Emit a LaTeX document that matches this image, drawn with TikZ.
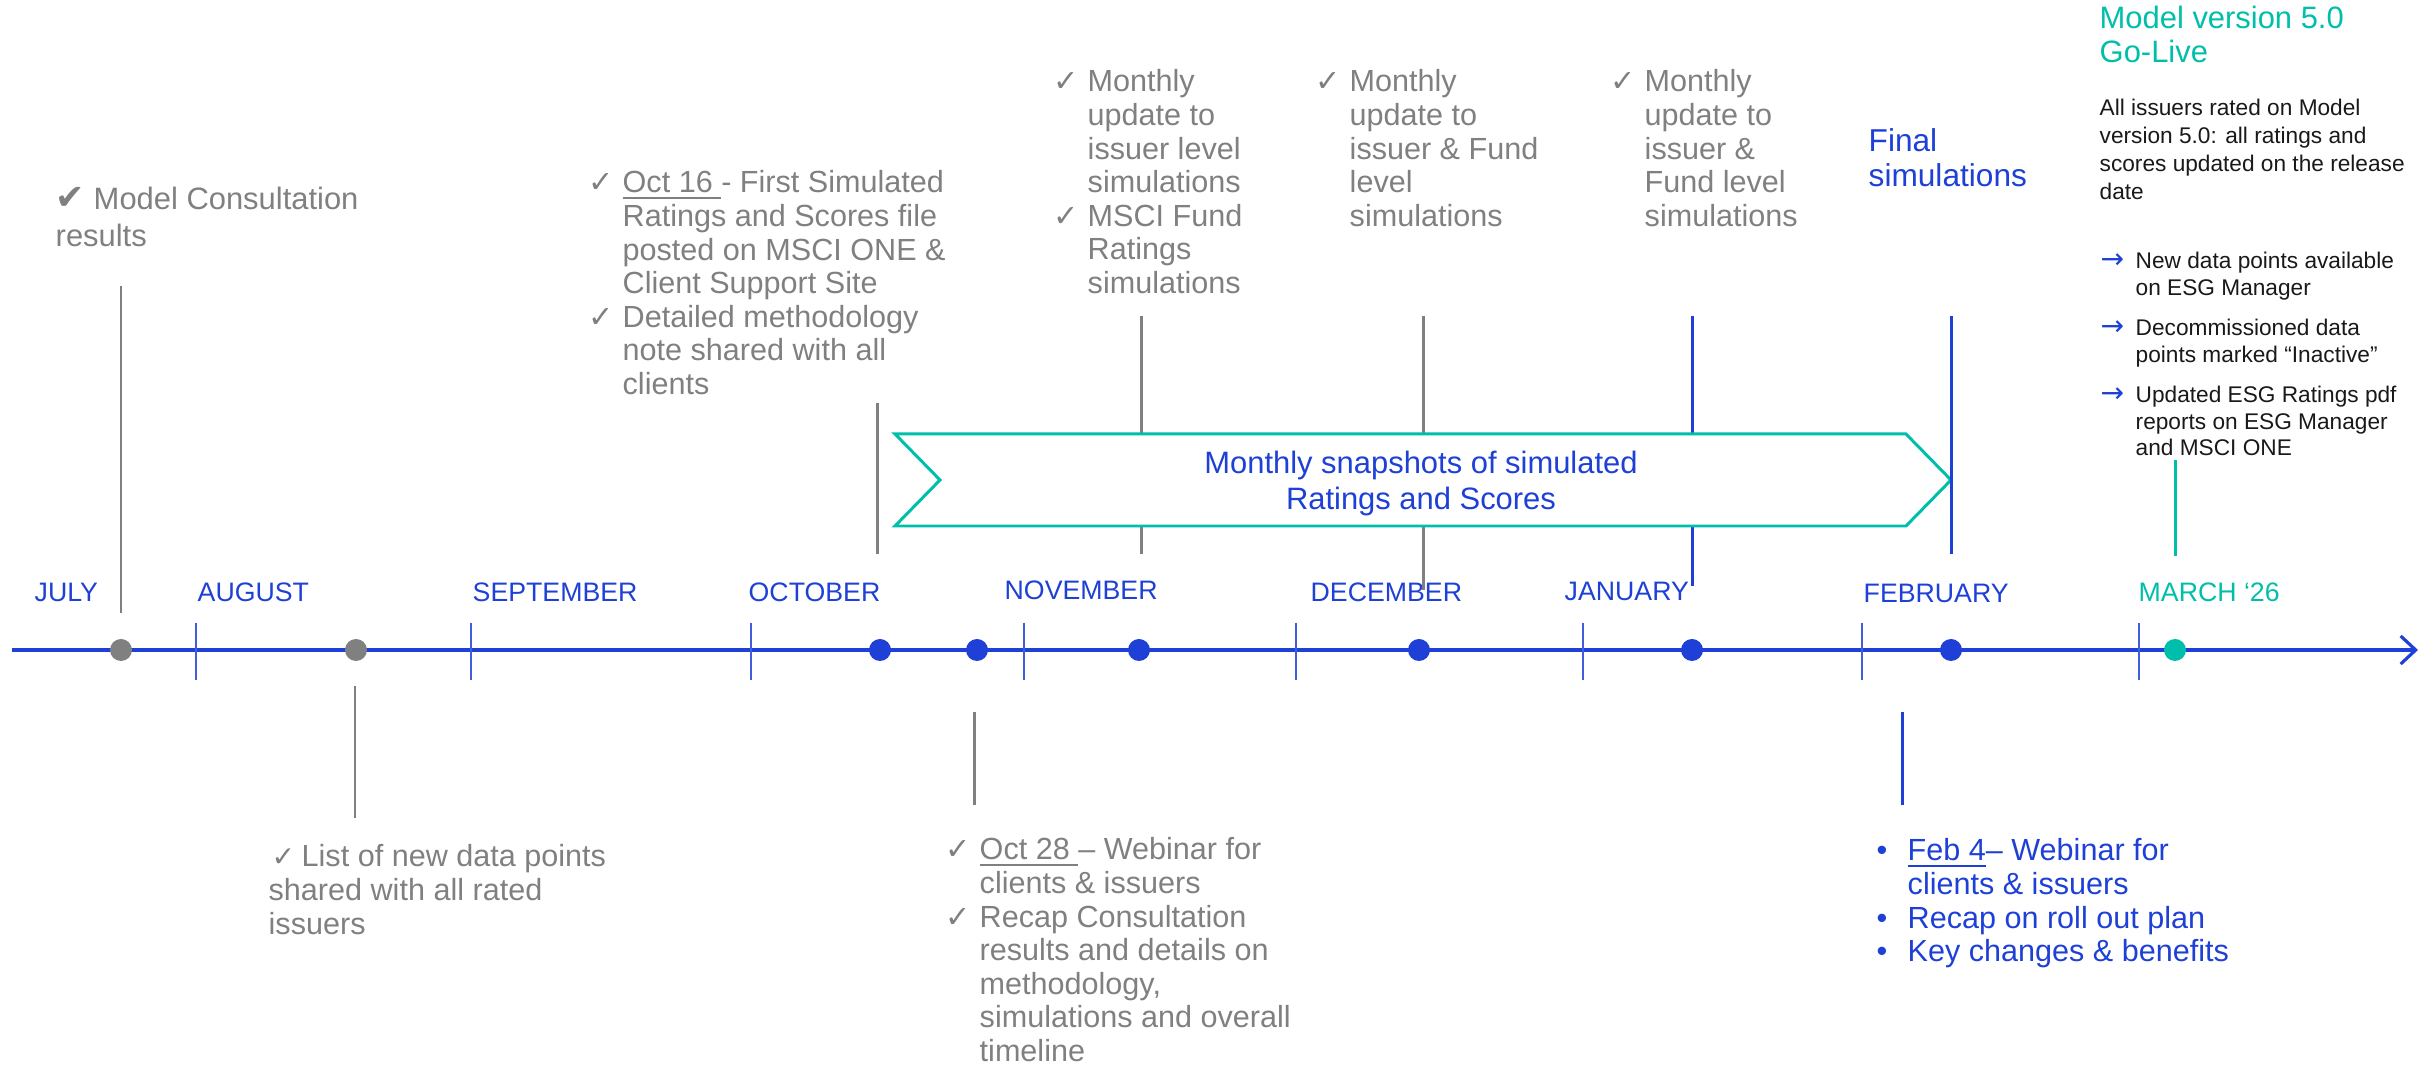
\documentclass[tikz,border=0pt]{standalone}
\usepackage{fontspec}
\setmainfont{Liberation Sans}
\newfontfamily\symfont{DejaVu Sans}
\usetikzlibrary{arrows.meta,positioning}

\definecolor{msciblue}{RGB}{30,64,214}
\definecolor{mscigrey}{RGB}{128,128,128}
\definecolor{msciteal}{RGB}{0,191,170}
\definecolor{mscink}{RGB}{25,25,25}

\newcommand{\dateul}[1]{\setbox0=\hbox{#1}\rlap{\rule[-1.8pt]{\wd0}{0.75pt}}\box0}
\newcommand{\chk}{\makebox[3.4mm][l]{\symfont\fontsize{8.6}{8.6}\selectfont ✓}}
\newcommand{\bigchk}{{\symfont\fontsize{10}{10}\selectfont ✔}}
\newcommand{\arr}{\makebox[3.5mm][l]{\color{msciblue}\symfont\fontsize{8}{8}\selectfont →}}
\newcommand{\bul}{\makebox[3.1mm][l]{•}}

\begin{document}
\begin{tikzpicture}[x=0.1mm,y=-0.1mm,
  txt/.style={inner sep=0pt, anchor=base west, font=\fontsize{8.7}{9.56}\selectfont},
  greytxt/.style={txt, text=mscigrey},
  bluetxt/.style={txt, text=msciblue},
  month/.style={inner sep=0pt, anchor=base west, text=msciblue, font=\fontsize{7.6}{8}\selectfont},
  dot/.style={circle, inner sep=0pt, minimum size=2.2mm},
  greyline/.style={draw=mscigrey, line width=0.85pt},
  blueline/.style={draw=msciblue, line width=0.85pt},
  tealline/.style={draw=msciteal, line width=0.85pt},
  axis/.style={draw=msciblue, line width=0.9pt, -{Straight Barb[length=1.5mm,width=2.8mm]}},
  tickmark/.style={draw=msciblue!85, line width=0.55pt},
  chevron/.style={draw=msciteal, line width=0.85pt, fill=white}]

  \useasboundingbox (0,0) rectangle (2433,1068);

  % Axis

  \coordinate (ax-start) at (12,650);
  \coordinate (ax-end)   at (2418,650);
  \draw[axis] (ax-start) -- (ax-end);

  \foreach \x in {196,471,751,1024,1296,1583,1862,2139}
    \draw[tickmark] (\x,623) -- (\x,680);

  % Months

  \node[month] (m-jul) at (34,602)   {JULY} ; %
  \node[month] (m-aug) at (197,602)  {AUGUST} ; %
  \node[month] (m-sep) at (472,602)  {SEPTEMBER} ; %
  \node[month] (m-oct) at (748,602)  {OCTOBER} ; %
  \node[month] (m-nov) at (1004,600) {NOVEMBER} ; %
  \node[month] (m-dec) at (1310,602) {DECEMBER} ; %
  \node[month] (m-jan) at (1564,601) {JANUARY} ; %
  \node[month] (m-feb) at (1863,603) {FEBRUARY} ; %
  \node[month, text=msciteal] (m-mar) at (2138,602) {MARCH ‘26} ; %

  % Stems

  \coordinate (s-jul-a) at (121,286);  \coordinate (s-jul-b) at (121,613);
  \coordinate (s-aug-a) at (355,686);  \coordinate (s-aug-b) at (355,818);
  \coordinate (s-o16-a) at (877,403);  \coordinate (s-o16-b) at (877,554);
  \coordinate (s-o28-a) at (974,712);  \coordinate (s-o28-b) at (974,805);
  \coordinate (s-nov-a) at (1141,316); \coordinate (s-nov-b) at (1141,554);
  \coordinate (s-dec-a) at (1423,316); \coordinate (s-dec-b) at (1423,590);
  \coordinate (s-jan-a) at (1692,316); \coordinate (s-jan-b) at (1692,586);
  \coordinate (s-feb-a) at (1951,316); \coordinate (s-feb-b) at (1951,554);
  \coordinate (s-fb4-a) at (1902,712); \coordinate (s-fb4-b) at (1902,805);
  \coordinate (s-mar-a) at (2175,460); \coordinate (s-mar-b) at (2175,556);

  \draw[greyline] (s-jul-a) -- (s-jul-b);
  \draw[greyline] (s-aug-a) -- (s-aug-b);
  \draw[greyline] (s-o16-a) -- (s-o16-b);
  \draw[greyline] (s-o28-a) -- (s-o28-b);
  \draw[greyline] (s-nov-a) -- (s-nov-b);
  \draw[greyline] (s-dec-a) -- (s-dec-b);
  \draw[blueline] (s-jan-a) -- (s-jan-b);
  \draw[blueline] (s-fb4-a) -- (s-fb4-b);
  \draw[tealline] (s-mar-a) -- (s-mar-b);

  % Snapshot band

  \draw[chevron] (895,434) -- (1906,434) -- (1951,480) -- (1906,526)
    -- (895,526) -- (940,480) -- cycle;
  \node[inner sep=0pt, anchor=base, text=msciblue, font=\fontsize{8.8}{10.2}\selectfont]
    (snap) at (1421,474) {\begin{tabular}[t]{@{}c@{}}Monthly snapshots of simulated\\Ratings and Scores\end{tabular}} ; %
  \draw[blueline] (s-feb-a) -- (s-feb-b);

  % Dots

  \node[dot, fill=mscigrey] (d-jul) at (121,650)  {} ; %
  \node[dot, fill=mscigrey] (d-aug) at (356,650)  {} ; %
  \node[dot, fill=msciblue] (d-o16) at (880,650)  {} ; %
  \node[dot, fill=msciblue] (d-o28) at (977,650)  {} ; %
  \node[dot, fill=msciblue] (d-nov) at (1139,650) {} ; %
  \node[dot, fill=msciblue] (d-dec) at (1419,650) {} ; %
  \node[dot, fill=msciblue] (d-jan) at (1692,650) {} ; %
  \node[dot, fill=msciblue] (d-feb) at (1951,650) {} ; %
  \node[dot, fill=msciteal] (d-mar) at (2175,650) {} ; %

  % Text blocks

  \node[greytxt, font=\fontsize{8.8}{10.5}\selectfont] (t-jul) at (55,210)
    {\begin{tabular}[t]{@{}l@{}}\bigchk{} Model Consultation\\results\end{tabular}} ; %

  \node[greytxt] (t-aug) at (268,867)
    {\begin{tabular}[t]{@{}l@{}}\hspace{0.3mm}\makebox[3.0mm][l]{\symfont\fontsize{8}{8}\selectfont ✓}List of new data points\\shared with all rated\\issuers\end{tabular}} ; %

  \node[greytxt] (t-o16) at (588,193)
    {\begin{tabular}[t]{@{}l@{}l@{}}
      \chk & \dateul{Oct 16 }- First Simulated\\
           & Ratings and Scores file\\
           & posted on MSCI ONE \&\\
           & Client Support Site\\
      \chk & Detailed methodology\\
           & note shared with all\\
           & clients
    \end{tabular}} ; %

  \node[greytxt] (t-o28) at (945,860)
    {\begin{tabular}[t]{@{}l@{}l@{}}
      \chk & \dateul{Oct 28 }– Webinar for\\
           & clients \& issuers\\
      \chk & Recap Consultation\\
           & results and details on\\
           & methodology,\\
           & simulations and overall\\
           & timeline
    \end{tabular}} ; %

  \node[greytxt] (t-nov) at (1053,92)
    {\begin{tabular}[t]{@{}l@{}l@{}}
      \chk & Monthly\\
           & update to\\
           & issuer level\\
           & simulations\\
      \chk & MSCI Fund\\
           & Ratings\\
           & simulations
    \end{tabular}} ; %

  \node[greytxt] (t-dec) at (1315,92)
    {\begin{tabular}[t]{@{}l@{}l@{}}
      \chk & Monthly\\
           & update to\\
           & issuer \& Fund\\
           & level\\
           & simulations
    \end{tabular}} ; %

  \node[greytxt] (t-jan) at (1610,92)
    {\begin{tabular}[t]{@{}l@{}l@{}}
      \chk & Monthly\\
           & update to\\
           & issuer \&\\
           & Fund level\\
           & simulations
    \end{tabular}} ; %

  \node[bluetxt, font=\fontsize{9}{9.7}\selectfont] (t-final) at (1868,152)
    {\begin{tabular}[t]{@{}l@{}}Final\\simulations\end{tabular}} ; %

  \node[bluetxt] (t-fb4) at (1876,861)
    {\begin{tabular}[t]{@{}l@{}l@{}}
      \bul & \dateul{Feb 4}– Webinar for\\
           & clients \& issuers\\
      \bul & Recap on roll out plan\\
      \bul & Key changes \& benefits
    \end{tabular}} ; %

  \node[txt, text=msciteal, font=\fontsize{8.8}{9.67}\selectfont] (t-golive) at (2099,29)
    {\begin{tabular}[t]{@{}l@{}}Model version 5.0\\Go-Live\end{tabular}} ; %

  \node[txt, text=mscink, font=\fontsize{6.45}{7.9}\selectfont] (t-rated) at (2099,116)
    {\begin{tabular}[t]{@{}l@{}}All issuers rated on Model\\version 5.0: all ratings and\\scores updated on the release\\date\end{tabular}} ; %

  \node[txt, text=mscink, font=\fontsize{6.45}{7.6}\selectfont] (t-items) at (2100,269)
    {\begin{tabular}[t]{@{}l@{}l@{}}
      \arr & New data points available\\
           & on ESG Manager\\[3.8pt]
      \arr & Decommissioned data\\
           & points marked “Inactive”\\[3.8pt]
      \arr & Updated ESG Ratings pdf\\
           & reports on ESG Manager\\
           & and MSCI ONE
    \end{tabular}} ; %

\end{tikzpicture}
\end{document}
